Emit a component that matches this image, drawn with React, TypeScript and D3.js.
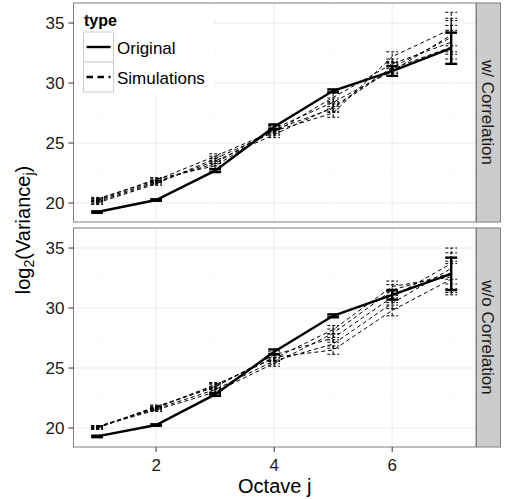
import React from "react";
import * as d3 from "d3";

const octaves = [1, 2, 3, 4, 5, 6, 7];
const panelNames = ["w/ Correlation", "w/o Correlation"];
const yTicks = [20, 25, 30, 35];
const xTicks = [2, 4, 6];

// w/ Correlation
const origCorr = [19.25, 20.25, 22.7, 26.35, 29.35, 31.0, 32.9];
const origCorrErr = [0.06, 0.06, 0.12, 0.2, 0.12, 0.4, 1.3];
const simsCorr = [
  [20.35, 21.9, 23.9, 26.0, 27.5, 32.2, 34.5],
  [20.1, 21.7, 23.5, 25.7, 28.0, 31.3, 33.8],
  [20.2, 21.8, 23.3, 26.2, 28.4, 31.0, 34.0],
  [20.0, 21.6, 23.7, 25.9, 28.8, 31.6, 33.4],
  [20.25, 22.0, 23.1, 26.1, 27.9, 31.2, 33.0],
];
const simErrCorr = [0.12, 0.12, 0.2, 0.25, 0.35, 0.4, 1.4];

// w/o Correlation
const origNoCorr = [19.3, 20.25, 22.8, 26.35, 29.35, 31.1, 32.85];
const origNoCorrErr = [0.06, 0.06, 0.12, 0.2, 0.12, 0.4, 1.35];
const simsNoCorr = [
  [20.1, 21.7, 23.5, 25.9, 26.5, 29.8, 32.4],
  [20.1, 21.6, 23.2, 25.6, 27.0, 30.4, 33.3],
  [20.0, 21.8, 23.4, 26.1, 27.5, 30.9, 33.7],
  [20.1, 21.5, 23.0, 25.4, 27.9, 31.5, 32.9],
  [20.0, 21.7, 23.6, 25.8, 28.2, 31.8, 32.6],
];
const simErrNoCorr = [0.1, 0.12, 0.2, 0.25, 0.35, 0.45, 1.3];

const panelData = [
  { orig: origCorr, origErr: origCorrErr, sims: simsCorr, simErr: simErrCorr },
  { orig: origNoCorr, origErr: origNoCorrErr, sims: simsNoCorr, simErr: simErrNoCorr },
];

const FONT = "Liberation Sans, Arial, Helvetica, sans-serif";
const left = 73.5;
const right = 476;
const panelTops = [3, 228];
const panelH = 219;
const capW = 0.1;

const x = d3.scaleLinear().domain([0.6, 7.42]).range([left, right]);

const ErrorBars = ({ vals, errs, y, stroke, width, dash }: any) => (
  <g stroke={stroke} strokeWidth={width} strokeDasharray={dash} fill="none">
    {vals.map((v: number, i: number) => {
      const xo = octaves[i];
      const lo = y(v - errs[i]);
      const hi = y(v + errs[i]);
      return (
        <g key={i}>
          <line x1={x(xo)} x2={x(xo)} y1={lo} y2={hi} />
          <line x1={x(xo - capW)} x2={x(xo + capW)} y1={lo} y2={lo} />
          <line x1={x(xo - capW)} x2={x(xo + capW)} y1={hi} y2={hi} />
        </g>
      );
    })}
  </g>
);

const Panel = ({ idx }: { idx: number }) => {
  const top = panelTops[idx];
  const y = d3.scaleLinear().domain([18.42, 36.67]).range([top + panelH, top]);
  const d = panelData[idx];
  const line = d3
    .line<number>()
    .x((_, i) => x(octaves[i]))
    .y((v) => y(v));
  const minorX = [1, 3, 5, 7];
  const minorY = [22.5, 27.5, 32.5];
  return (
    <g>
      <rect x={left} y={top} width={right - left} height={panelH} fill="white" />
      {minorX.map((t) => (
        <line key={"mx" + t} x1={x(t)} x2={x(t)} y1={top} y2={top + panelH} stroke="#FAFAFA" strokeWidth={1} />
      ))}
      {minorY.map((t) => (
        <line key={"my" + t} x1={left} x2={right} y1={y(t)} y2={y(t)} stroke="#FAFAFA" strokeWidth={1} />
      ))}
      {xTicks.map((t) => (
        <line key={"gx" + t} x1={x(t)} x2={x(t)} y1={top} y2={top + panelH} stroke="#EBEBEB" strokeWidth={1} />
      ))}
      {yTicks.map((t) => (
        <line key={"gy" + t} x1={left} x2={right} y1={y(t)} y2={y(t)} stroke="#EBEBEB" strokeWidth={1} />
      ))}
      {idx === 0 && <rect x={left + 0.5} y={top + 1} width={139} height={93} fill="white" />}
      {d.sims.map((s, k) => (
        <g key={k}>
          <path d={line(s) || ""} fill="none" stroke="black" strokeWidth={1} strokeDasharray="4,3" />
          <ErrorBars vals={s} errs={d.simErr} y={y} stroke="black" width={1} dash="3,2" />
        </g>
      ))}
      <path d={line(d.orig) || ""} fill="none" stroke="black" strokeWidth={2.4} />
      <ErrorBars vals={d.orig} errs={d.origErr} y={y} stroke="black" width={2.4} />
      <rect x={left} y={top} width={right - left} height={panelH} fill="none" stroke="#7F7F7F" strokeWidth={1} />
      {yTicks.map((t) => (
        <g key={"yt" + t}>
          <line x1={left - 5} x2={left} y1={y(t)} y2={y(t)} stroke="#333" strokeWidth={1} />
          <text x={left - 9} y={y(t)} dy="0.36em" textAnchor="end" fontSize={17} fontFamily={FONT} fill="#1a1a1a">
            {t}
          </text>
        </g>
      ))}
      <rect x={right + 0.5} y={top} width={24} height={panelH} fill="#CCCCCC" stroke="#7F7F7F" strokeWidth={1} />
      <text
        transform={`translate(${right + 12.5},${top + panelH / 2}) rotate(90)`}
        textAnchor="middle"
        dy="0.36em"
        fontSize={17}
        fontFamily={FONT}
        fill="#1a1a1a"
      >
        {panelNames[idx]}
      </text>
    </g>
  );
};

const Legend = () => (
  <g fontFamily={FONT}>
    <text x={84} y={26} fontSize={16} fontWeight="bold" fill="black">
      type
    </text>
    <rect x={83.5} y={32} width={30} height={30} fill="white" stroke="#CCCCCC" strokeWidth={1} />
    <rect x={83.5} y={62} width={30} height={30} fill="white" stroke="#CCCCCC" strokeWidth={1} />
    <line x1={86.5} x2={110.5} y1={47} y2={47} stroke="black" strokeWidth={2.4} />
    <line x1={86.5} x2={110.5} y1={77} y2={77} stroke="black" strokeWidth={2.4} strokeDasharray="6.5,4.5" />
    <text x={117} y={54} fontSize={17} fill="black">
      Original
    </text>
    <text x={117} y={84} fontSize={17} fill="black">
      Simulations
    </text>
  </g>
);

export default function App() {
  const bottom = panelTops[1] + panelH;
  return (
    <svg width={508} height={499} style={{ position: "absolute", left: 0, top: 0, background: "white" }}>
      <rect width={508} height={499} fill="white" />
      <Panel idx={0} />
      <Panel idx={1} />
      <Legend />
      {xTicks.map((t) => (
        <g key={"xt" + t}>
          <line x1={x(t)} x2={x(t)} y1={bottom} y2={bottom + 5} stroke="#333" strokeWidth={1} />
          <text x={x(t)} y={bottom + 24} textAnchor="middle" fontSize={17} fontFamily={FONT} fill="#1a1a1a">
            {t}
          </text>
        </g>
      ))}
      <text x={(left + right) / 2} y={493} textAnchor="middle" fontSize={20} fontFamily={FONT} fill="black">
        Octave j
      </text>
      <text transform="translate(30,230) rotate(-90)" textAnchor="middle" fontSize={20} fontFamily={FONT} fill="black">
        log
        <tspan fontSize={14} dy={4}>2</tspan>
        <tspan dy={-4}>(Variance</tspan>
        <tspan fontSize={14} dy={4}>j</tspan>
        <tspan dy={-4}>)</tspan>
      </text>
    </svg>
  );
}
